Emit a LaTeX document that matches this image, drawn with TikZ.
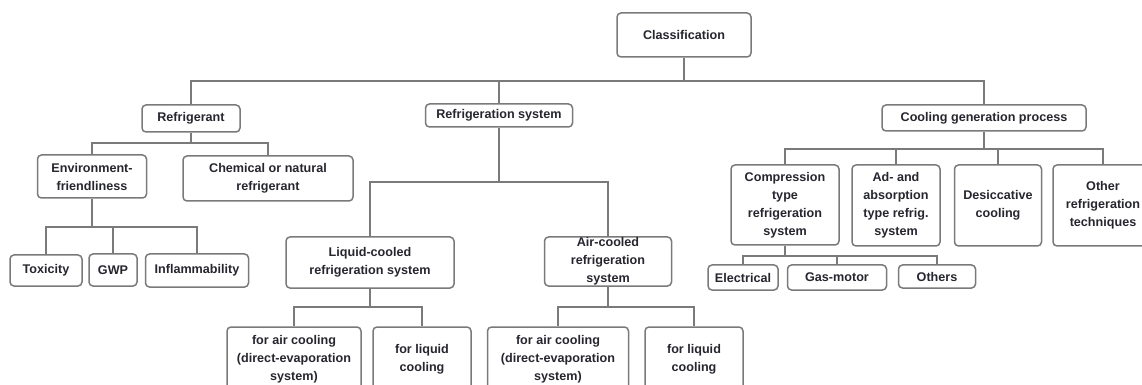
\documentclass[tikz,border=0pt]{standalone}
\usepackage{fontspec}
\setmainfont{Liberation Sans}
\definecolor{linegray}{HTML}{7A7A7A}
\definecolor{txt}{HTML}{26262F}
\begin{document}
\begin{tikzpicture}[x=0.5pt,y=-0.5pt,
  box/.style={draw=linegray, line width=0.75pt, rounded corners=2pt, align=center,
    inner sep=0pt, font=\bfseries\fontsize{6.3}{9}\selectfont, text=txt, fill=white},
  sz/.style 2 args={minimum width=#1*0.5pt, minimum height=#2*0.5pt},
  conn/.style={draw=linegray, line width=0.75pt}]
\useasboundingbox (0,0) rectangle (1142,385);
\clip (0,0) rectangle (1142,385);
% bus levels
\coordinate (b0) at (0,81);
\coordinate (b1) at (0,143);
\coordinate (b2) at (0,227);
\coordinate (b3) at (0,182);
\coordinate (b4) at (0,307);
\coordinate (b5) at (0,149);
\coordinate (b6) at (0,256);
% nodes
\node[box, sz={134}{44}] (class) at (684,35) {Classification};
\node[box, sz={98}{27}] (refr) at (191,118.5) {Refrigerant};
\node[box, sz={147}{23}] (rsys) at (499,115.5) {Refrigeration system};
\node[box, sz={204}{26}] (cool) at (984,118) {Cooling generation process};
\node[box, sz={109}{43}] (env) at (92,176.5) {Environment-\\friendliness};
\node[box, sz={170}{45}] (chem) at (268,178.5) {Chemical or natural\\refrigerant};
\node[box, sz={72}{31}] (tox) at (46,270.5) {Toxicity};
\node[box, sz={48}{32}] (gwp) at (113,270) {GWP};
\node[box, sz={103}{33}] (infl) at (197,270.5) {Inflammability};
\node[box, sz={168}{51}] (liq) at (370,262.5) {Liquid-cooled\\refrigeration system};
\node[box, sz={127}{49}] (air) at (608,261.5) {Air-cooled\\refrigeration\\system};
\node[box, sz={134}{65}] (la) at (294,359.5) {for air cooling\\(direct-evaporation\\system)};
\node[box, sz={98}{65}] (ll) at (422,359.5) {for liquid\\cooling};
\node[box, sz={141}{65}] (aa) at (558,359.5) {for air cooling\\(direct-evaporation\\system)};
\node[box, sz={98}{65}] (al) at (694,359.5) {for liquid\\cooling};
\node[box, sz={108}{80}] (comp) at (785,205) {Compression\\type\\refrigeration\\system};
\node[box, sz={88}{81}] (ads) at (896,205.5) {Ad- and\\absorption\\type refrig.\\system};
\node[box, sz={87}{81}] (des) at (998,205.5) {Desiccative\\cooling};
\node[box, sz={100}{81}] (oth) at (1103,205.5) {Other\\refrigeration\\techniques};
\node[box, sz={70}{25}] (elec) at (743,277.5) {Electrical};
\node[box, sz={99}{25}] (gas) at (837,277.5) {Gas-motor};
\node[box, sz={77}{23}] (others) at (937,276.5) {Others};
% connectors
\draw[conn] (class.south) -- (class.south |- b0) -| (refr.north);
\draw[conn] (class.south |- b0) -| (rsys.north);
\draw[conn] (class.south |- b0) -| (cool.north);
\draw[conn] (refr.south) -- (refr.south |- b1) -| (env.north);
\draw[conn] (refr.south |- b1) -| (chem.north);
\draw[conn] (env.south) -- (env.south |- b2) -| (tox.north);
\draw[conn] (env.south |- b2) -| (gwp.north);
\draw[conn] (env.south |- b2) -| (infl.north);
\draw[conn] (rsys.south) -- (rsys.south |- b3) -| (liq.north);
\draw[conn] (rsys.south |- b3) -| (air.north);
\draw[conn] (liq.south) -- (liq.south |- b4) -| (la.north);
\draw[conn] (liq.south |- b4) -| (ll.north);
\draw[conn] (air.south) -- (air.south |- b4) -| (aa.north);
\draw[conn] (air.south |- b4) -| (al.north);
\draw[conn] (cool.south) -- (cool.south |- b5) -| (comp.north);
\draw[conn] (cool.south |- b5) -| (ads.north);
\draw[conn] (cool.south |- b5) -| (des.north);
\draw[conn] (cool.south |- b5) -| (oth.north);
\draw[conn] (comp.south) -- (comp.south |- b6) -| (elec.north);
\draw[conn] (comp.south |- b6) -| (gas.north);
\draw[conn] (comp.south |- b6) -| (others.north);
\end{tikzpicture}
\end{document}
